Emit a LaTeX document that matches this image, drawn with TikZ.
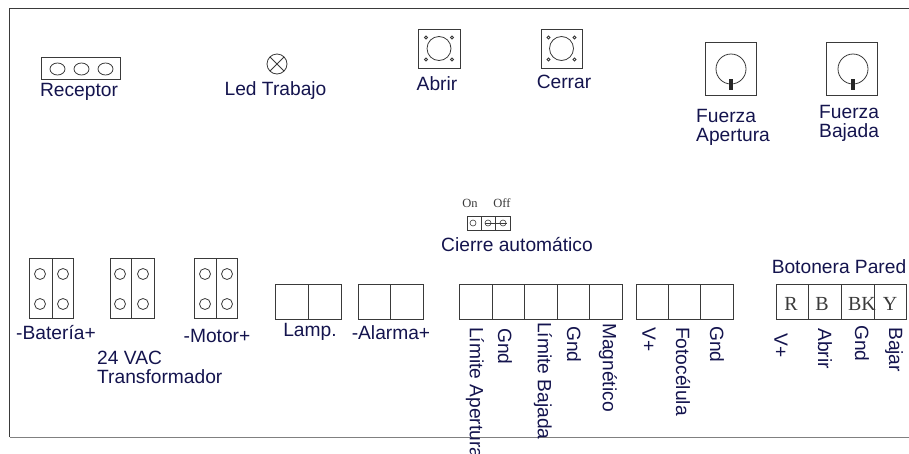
\documentclass[tikz,border=0pt]{standalone}
\usepackage{fontspec}
\setmainfont{Liberation Sans}
\newfontfamily\letterfont{Liberation Serif}
\definecolor{labelblue}{HTML}{14144E}
\definecolor{edgegray}{HTML}{3A3A3A}

\tikzset{
  panel/.style={edgegray, line width=0.9pt},
  hole/.style={draw=edgegray, line width=0.8pt},
  txt/.style={inner sep=0pt, text=labelblue, font=\fontsize{19.2}{19}\selectfont, align=left},
  vtxt/.style={txt, rotate=-90, anchor=west},
  letter/.style={inner sep=0pt, text=edgegray, font=\letterfont\fontsize{20}{20}\selectfont},
  small/.style={inner sep=0pt, text=edgegray, font=\letterfont\fontsize{12.5}{12.5}\selectfont}
}

\begin{document}
\begin{tikzpicture}[x=1pt, y=-1pt]
  \useasboundingbox (0,0) rectangle (909,453);

  % board outline, open on the right
  \coordinate (tr) at (909,8.5);
  \coordinate (tl) at (9.5,8.5);
  \coordinate (bl) at (9.5,437);
  \coordinate (br) at (909,437);
  \draw[panel] (tr) -- (tl) -- (bl);
  \draw[gray, line width=1pt] (bl) -- (br);

  % receptor
  \draw[panel] (41,57) rectangle (120,79);
  \foreach \x in {57.5,81.5,105.5}{
    \draw[hole] (\x,69) ellipse (7.5 and 6);
  }
  \node[txt] (receptor) at (79,92) {Receptor};

  % led
  \draw[hole] (277,64) circle (10);
  \draw[hole] (270,57) -- (284,71) (270,71) -- (284,57);
  \node[txt] (led) at (275.5,91) {Led Trabajo};

  % push buttons
  \foreach \x/\y/\w in {439/48.5/21, 561.5/48.5/20.5}{
    \draw[panel] (\x-\w,\y-19.5) rectangle (\x+\w,\y+19.5);
    \draw[hole] (\x,\y) circle (12);
    \foreach \dx in {-13,13}
      \foreach \dy in {-11,11}
        \draw[hole] (\x+\dx,\y+\dy) circle (1.5);
  }
  \node[txt] (abrir) at (437,84) {Abrir};
  \node[txt] (cerrar) at (564,82) {Cerrar};

  % force trimmers
  \foreach \x/\c in {705/731, 826/853}{
    \draw[panel] (\x,42) rectangle (\x+51,95);
    \draw[hole] (\c,69) circle (15);
    \fill[black!85] (\c-2,79) rectangle (\c+2,89.5);
  }
  \node[txt, anchor=west] (fuerzaA) at (696,127.5) {Fuerza\\Apertura};
  \node[txt, anchor=west] (fuerzaB) at (819,123.5) {Fuerza\\Bajada};

  % auto close jumper
  \draw[panel, line width=0.7pt] (467,216) rectangle (510,230);
  \draw[panel, line width=0.7pt] (481,216) -- (481,230) (495,216) -- (495,230);
  \foreach \x in {473,488,503}{
    \draw[hole, line width=0.6pt] (\x,223) circle (3);
  }
  \draw[panel, line width=0.6pt] (485,223) -- (507,223);
  \node[small] (on) at (470,203) {On};
  \node[small] (off) at (502,203) {Off};
  \node[txt] (cierre) at (517,245) {Cierre automático};

  % power terminals with holes
  \foreach \a/\d/\b/\ca/\cb in {29/52/73/40/63, 110/131/154/120/143, 194/216/237/205/227}{
    \draw[panel] (\a,258) rectangle (\b,318);
    \draw[panel] (\d,258) -- (\d,318);
    \foreach \cx in {\ca,\cb}
      \foreach \cy in {274,304}
        \draw[hole] (\cx,\cy) circle (5.5);
  }
  \node[txt] (bateria) at (56,333) {-Batería+};
  \node[txt] (motor) at (217,336) {-Motor+};
  \node[txt, anchor=west] (trafo) at (97,367) {24 VAC\\Transformador};

  % plain terminal blocks
  \foreach \a/\b/\dlist in {275/341/{308}, 358/423/{390}, 459/622/{492,524,557,589}, 636/733/{668,700}, 776/906/{808,841,874}}{
    \draw[panel] (\a,284) rectangle (\b,319);
    \foreach \d in \dlist
      \draw[panel] (\d,284) -- (\d,319);
  }
  \node[txt] (lamp) at (310,332) {Lamp.};
  \node[txt] (alarma) at (391,333) {-Alarma+};

  % vertical labels
  \foreach \x/\y/\t [count = \n] in {475/327/Límite Apertura, 505/328/Gnd, 543/322/Límite Bajada, 574/326/Gnd,
    608/323/Magnético, 649/327/V+, 683/327/Fotocélula, 717/326/Gnd,
    781/333/V+, 825/328/Abrir, 862/325/Gnd, 894/327/Bajar}{
    \node[vtxt] (pin\n) at (\x,\y) {\t};
  }

  % wall station
  \node[txt] (botonera) at (839,267) {Botonera Pared};
  \foreach \x/\t in {791/R, 822/B, 862/BK, 890/Y}{
    \node[letter] (wire\t) at (\x,304) {\t};
  }
\end{tikzpicture}
\end{document}
